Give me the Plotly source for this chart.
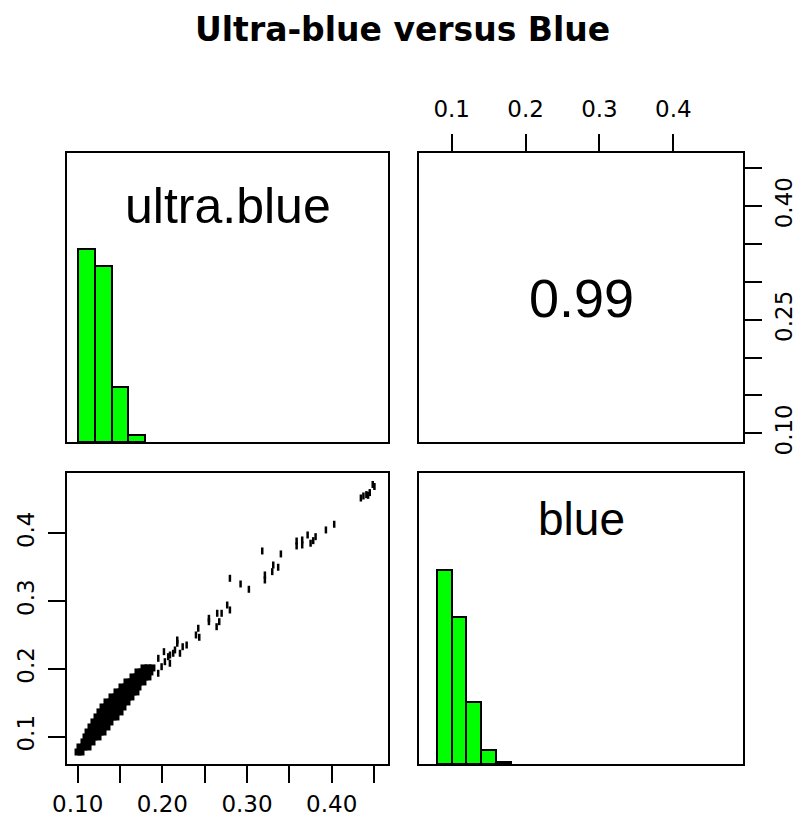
import plotly.graph_objects as go

# ---------------- data ----------------
title_text = "Ultra-blue versus Blue"
var_names = ["ultra.blue", "blue"]
corr_text = "0.99"

# histogram of ultra.blue (bin centres, relative heights: count / max count)
ultra_bins = [0.11, 0.13, 0.15, 0.17]
ultra_heights = [1.0, 0.915, 0.285, 0.036]

# histogram of blue
blue_bins = [0.09, 0.11, 0.13, 0.15, 0.17]
blue_heights = [1.0, 0.76, 0.32, 0.072, 0.012]
bin_width = 0.02

# scatter: dense (over-plotted) core of the cloud, ultra.blue on x, blue on y
band_ultra = [
    0.1004, 0.1039,
    0.1027, 0.1074, 0.1122,
    0.1074, 0.1122, 0.1169,
    0.1098, 0.1145, 0.1192, 0.1240,
    0.1122, 0.1169, 0.1216, 0.1263, 0.1299,
    0.1157, 0.1204, 0.1251, 0.1299, 0.1346,
    0.1192, 0.1240, 0.1287, 0.1334, 0.1381,
    0.1228, 0.1275, 0.1322, 0.1369, 0.1417, 0.1452,
    0.1263, 0.1310, 0.1358, 0.1405, 0.1452, 0.1500,
    0.1299, 0.1346, 0.1393, 0.1440, 0.1487, 0.1535,
    0.1346, 0.1393, 0.1440, 0.1487, 0.1535, 0.1582,
    0.1405, 0.1452, 0.1500, 0.1547, 0.1594, 0.1629,
    0.1464, 0.1511, 0.1558, 0.1605, 0.1653, 0.1688,
    0.1523, 0.1570, 0.1617, 0.1664, 0.1712,
    0.1582, 0.1629, 0.1676, 0.1723, 0.1771,
    0.1653, 0.1700, 0.1747, 0.1794, 0.1830,
    0.1712, 0.1759, 0.1806, 0.1853,
    0.1783, 0.1830, 0.1877,
]
band_blue = [
    0.0774, 0.0774,
    0.0848, 0.0848, 0.0848,
    0.0922, 0.0922, 0.0922,
    0.0996, 0.0996, 0.0996, 0.0996,
    0.1069, 0.1069, 0.1069, 0.1069, 0.1069,
    0.1143, 0.1143, 0.1143, 0.1143, 0.1143,
    0.1217, 0.1217, 0.1217, 0.1217, 0.1217,
    0.1291, 0.1291, 0.1291, 0.1291, 0.1291, 0.1291,
    0.1365, 0.1365, 0.1365, 0.1365, 0.1365, 0.1365,
    0.1438, 0.1438, 0.1438, 0.1438, 0.1438, 0.1438,
    0.1512, 0.1512, 0.1512, 0.1512, 0.1512, 0.1512,
    0.1586, 0.1586, 0.1586, 0.1586, 0.1586, 0.1586,
    0.1660, 0.1660, 0.1660, 0.1660, 0.1660, 0.1660,
    0.1733, 0.1733, 0.1733, 0.1733, 0.1733,
    0.1807, 0.1807, 0.1807, 0.1807, 0.1807,
    0.1881, 0.1881, 0.1881, 0.1881, 0.1881,
    0.1955, 0.1955, 0.1955, 0.1955,
    0.2014, 0.2014, 0.2014,
]

# scatter: the individual points above the dense core
sparse_ultra = [
    0.4345, 0.4375, 0.4410, 0.4450, 0.4430, 0.4485, 0.4505,
    0.3932, 0.4030,
    0.3586, 0.3586, 0.3652, 0.3652, 0.3716, 0.3751, 0.3782, 0.3810,
    0.3180, 0.3400,
    0.3310, 0.3368, 0.3298, 0.3211, 0.3211,
    0.2798, 0.2924, 0.3022,
    0.2766, 0.2798, 0.2700, 0.2648, 0.2550, 0.2550, 0.2672, 0.2641,
    0.2424, 0.2397, 0.2436,
    0.2287, 0.2240, 0.2208, 0.2176, 0.2176, 0.2149, 0.2019, 0.2090, 0.1952,
    0.1951, 0.1991, 0.2030, 0.2089, 0.2069, 0.2128,
]
sparse_blue = [
    0.4520, 0.4550, 0.4570, 0.4600, 0.4560, 0.4720, 0.4690,
    0.4049, 0.4133,
    0.3886, 0.3813, 0.3901, 0.3827, 0.3975, 0.3853, 0.3891, 0.3950,
    0.3739, 0.3695,
    0.3532, 0.3499, 0.3434, 0.3385, 0.3311,
    0.3336, 0.3252, 0.3174,
    0.2942, 0.2869, 0.2820, 0.2820, 0.2746, 0.2696, 0.2696, 0.2622,
    0.2599, 0.2500, 0.2466,
    0.2352, 0.2327, 0.2230, 0.2426, 0.2378, 0.2279, 0.2254, 0.2205, 0.2156,
    0.1935, 0.2032, 0.2106, 0.2083, 0.2180, 0.2230,
]

# axis ticks
ultra_ticks = [0.10, 0.15, 0.20, 0.25, 0.30, 0.35, 0.40, 0.45]
ultra_bottom_labels = ["0.10", "", "0.20", "", "0.30", "", "0.40", ""]
ultra_right_labels = ["0.10", "", "", "0.25", "", "", "0.40", ""]
blue_ticks = [0.1, 0.2, 0.3, 0.4]
blue_labels = ["0.1", "0.2", "0.3", "0.4"]

# ---------------- figure ----------------
# the page body has an 8px margin on every side; keep the figure inside the
# window so that no scrollbar appears
OFF = 8
W, H = 804 - 2 * OFF, 826 - 2 * OFF


def px_x(p):
    return (p - OFF) / W


def px_y(p):
    return 1 - (p - OFF) / H


col1 = [px_x(67), px_x(388)]
col2 = [px_x(419), px_x(743)]
row1 = [px_y(442), px_y(153)]
row2 = [px_y(764), px_y(473)]

ultra_range_x = [0.08736, 0.46654]
ultra_range_y = [0.0885, 0.4702]
blue_range_x = [0.05573, 0.4943]
blue_range_y = [0.0597, 0.4889]

fig = go.Figure()

bar_style = dict(marker=dict(color="#00FF00", line=dict(color="black", width=2)),
                 width=bin_width, showlegend=False, hoverinfo="skip")
fig.add_trace(go.Bar(x=ultra_bins, y=ultra_heights, xaxis="x", yaxis="y", **bar_style))
fig.add_trace(go.Scatter(x=[], y=[], xaxis="x2", yaxis="y2", showlegend=False))
fig.add_trace(go.Scatter(x=band_ultra, y=band_blue, xaxis="x3", yaxis="y3", mode="markers",
                         marker=dict(symbol="square", size=7, color="black", line=dict(width=0)),
                         showlegend=False, hoverinfo="skip"))
fig.add_trace(go.Scatter(x=sparse_ultra, y=sparse_blue, xaxis="x3", yaxis="y3", mode="markers",
                         marker=dict(symbol="line-ns", size=5, color="black",
                                     line=dict(width=2.5, color="black")),
                         showlegend=False, hoverinfo="skip"))
fig.add_trace(go.Bar(x=blue_bins, y=blue_heights, xaxis="x4", yaxis="y4", **bar_style))

frame = dict(showline=True, mirror=True, linecolor="black", linewidth=2,
             showgrid=False, zeroline=False, automargin=False,
             showticklabels=False, ticks="", fixedrange=True)
tick_font = dict(family="DejaVu Sans", size=23, color="black")
tick_style = dict(ticks="outside", ticklen=17, tickwidth=2, tickcolor="black",
                  showticklabels=True, tickfont=tick_font)

fig.update_layout(
    width=W, height=H,
    margin=dict(l=0, r=0, t=0, b=0),
    paper_bgcolor="white", plot_bgcolor="white",
    bargap=0, showlegend=False,
    xaxis=dict(frame, domain=col1, range=ultra_range_x, anchor="y"),
    yaxis=dict(frame, domain=row1, range=[0, 1.5], anchor="x"),
    xaxis2=dict(frame, **tick_style, domain=col2, range=blue_range_x, anchor="y2",
                side="top", tickmode="array", tickvals=blue_ticks, ticktext=blue_labels,
                ticklabelstandoff=8),
    yaxis2=dict(frame, **tick_style, domain=row1, range=ultra_range_y, anchor="x2",
                side="right", tickmode="array", tickvals=ultra_ticks,
                ticktext=ultra_right_labels, tickangle=-90, ticklabelstandoff=2),
    xaxis3=dict(frame, **tick_style, domain=col1, range=ultra_range_x, anchor="y3",
                side="bottom", tickmode="array", tickvals=ultra_ticks,
                ticktext=ultra_bottom_labels, ticklabelstandoff=1),
    yaxis3=dict(frame, **tick_style, domain=row2, range=blue_range_y, anchor="x3",
                side="left", tickmode="array", tickvals=blue_ticks, ticktext=blue_labels,
                tickangle=-90, ticklabelstandoff=5),
    xaxis4=dict(frame, domain=col2, range=blue_range_x, anchor="y4"),
    yaxis4=dict(frame, domain=row2, range=[0, 1.5], anchor="x4"),
)

label_font = dict(family="Liberation Sans", color="black")
fig.add_annotation(text="<b>" + title_text + "</b>", xref="paper", yref="paper",
                   x=px_x(402), y=px_y(9), xanchor="center", yanchor="top",
                   showarrow=False, borderpad=0,
                   font=dict(family="DejaVu Sans", size=33, color="black"))
fig.add_annotation(text=var_names[0], xref="x domain", yref="y",
                   x=0.5, y=1.2, xanchor="center", yanchor="middle", showarrow=False,
                   yshift=5, font=dict(label_font, size=50))
fig.add_annotation(text=corr_text, xref="x2 domain", yref="y2 domain",
                   x=0.5, y=0.5, xanchor="center", yanchor="middle", showarrow=False,
                   font=dict(label_font, size=54))
fig.add_annotation(text=var_names[1], xref="x4 domain", yref="y4",
                   x=0.5, y=1.2, xanchor="center", yanchor="middle", showarrow=False,
                   yshift=12, font=dict(label_font, size=46))

fig.write_html("out.html")
